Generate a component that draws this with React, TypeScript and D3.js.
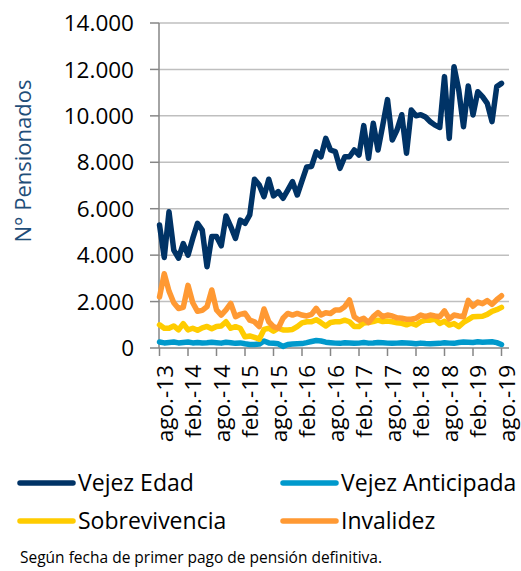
import React from "react";
import * as d3 from "d3";

// ago-13 .. ago-19, mensual (73 meses)
const tickLabels = [
  "ago.-13", "feb.-14", "ago.-14", "feb.-15", "ago.-15", "feb.-16", "ago.-16",
  "feb.-17", "ago.-17", "feb.-18", "ago.-18", "feb.-19", "ago.-19",
];

const vejezEdad = [
  5300, 3900, 5870, 4220, 3870, 4500, 4000, 4720, 5370, 5080, 3500, 4800, 4800,
  4400, 5690, 5230, 4720, 5510, 5370, 5730, 7270, 7020, 6520, 7270, 6550, 6735,
  6450, 6800, 7165, 6590, 7200, 7800, 7820, 8450, 8240, 9030, 8530, 8460, 7740,
  8240, 8240, 8530, 8310, 9580, 8170, 9680, 8530, 9600, 10700, 8960, 9390, 10050,
  8390, 10250, 10000, 10050, 9950, 9750, 9600, 9500, 11690, 9030, 12120, 11110,
  9530, 11290, 10040, 11040, 10830, 10540, 9750, 11260, 11400,
];

const vejezAnticipada = [
  260, 220, 240, 260, 220, 240, 260, 220, 240, 220, 230, 250, 230, 210, 250, 230,
  200, 220, 180, 150, 150, 170, 300, 220, 200, 180, 70, 150, 170, 180, 190, 230,
  280, 320, 300, 250, 230, 210, 200, 230, 220, 200, 210, 240, 210, 220, 240, 230,
  210, 200, 210, 230, 220, 200, 180, 210, 190, 180, 190, 200, 230, 210, 200, 240,
  260, 250, 240, 270, 250, 260, 270, 230, 150,
];

const sobrevivencia = [
  1000, 850, 850, 950, 780, 1050, 780, 850, 760, 870, 930, 830, 930, 950, 1130,
  850, 920, 850, 480, 520, 460, 380, 800, 850, 720, 850, 780, 780, 800, 920, 1080,
  1130, 1130, 1220, 1090, 950, 1100, 1130, 1130, 1200, 1130, 930, 930, 1080, 1100,
  1140, 1200, 1140, 1160, 1130, 1090, 1060, 1000, 1070, 990, 1130, 1200, 1200,
  1250, 1060, 1150, 990, 1050, 920, 1100, 1220, 1350, 1360, 1370, 1450, 1580,
  1650, 1750,
];

const invalidez = [
  2200, 3200, 2450, 1950, 1700, 1750, 2700, 1950, 1580, 1620, 1780, 2500, 1640,
  1420, 1640, 1920, 1350, 1450, 1500, 1200, 1130, 920, 1680, 1130, 920, 850, 1280,
  1490, 1420, 1490, 1420, 1380, 1450, 1710, 1420, 1520, 1490, 1640, 1640, 1780,
  2070, 1350, 1200, 1280, 1100, 1350, 1520, 1350, 1420, 1380, 1300, 1280, 1240,
  1240, 1280, 1420, 1350, 1420, 1380, 1350, 1600, 1250, 1420, 1380, 1350, 2050,
  1800, 1980, 1910, 2040, 1880, 2080, 2250,
];

const yTicks = [0, 2000, 4000, 6000, 8000, 10000, 12000, 14000];

const series = [
  { name: "Vejez Edad", values: vejezEdad, color: "#003366" },
  { name: "Vejez Anticipada", values: vejezAnticipada, color: "#0099CC" },
  { name: "Sobrevivencia", values: sobrevivencia, color: "#FFCC00" },
  { name: "Invalidez", values: invalidez, color: "#FF9933" },
];

const FONT = "'Open Sans', sans-serif";

export default function App() {
  const width = 521;
  const height = 571;
  const left = 159;
  const right = 509;

  const x = d3.scaleLinear().domain([0, vejezEdad.length - 1]).range([159.5, 501.5]);
  const y = d3.scaleLinear().domain([0, 14000]).range([348, 23]);

  const line = d3
    .line<number>()
    .x((_, i) => x(i))
    .y((d) => y(d));

  const fmt = (v: number) => d3.format(",")(v).replace(/,/g, ".");

  return (
    <svg
      width={width}
      height={height}
      style={{ position: "absolute", left: 0, top: 0, background: "#fff" }}
      fontFamily={FONT}
    >
      {/* gridlines + y axis labels */}
      {yTicks.map((t) => (
        <g key={t}>
          {t > 0 && (
            <line x1={left} x2={right} y1={y(t)} y2={y(t)} stroke="#BFBFBF" strokeWidth={1.5} />
          )}
          <line x1={left - 9} x2={left} y1={y(t)} y2={y(t)} stroke="#868686" strokeWidth={1.5} />
          <text x={134} y={y(t)} dy="0.36em" textAnchor="end" fontSize={22.5} fill="#000">
            {fmt(t)}
          </text>
        </g>
      ))}
      <line x1={left} x2={left} y1={y(14000)} y2={y(0)} stroke="#868686" strokeWidth={1.5} />
      <line x1={left} x2={right} y1={y(0)} y2={y(0)} stroke="#868686" strokeWidth={1.5} />

      {/* x ticks */}
      {tickLabels.map((lab, k) => {
        const xi = x(k * 6);
        return (
          <g key={lab}>
            <line x1={xi} x2={xi} y1={y(0)} y2={y(0) + 8} stroke="#868686" strokeWidth={1.5} />
            <text
              transform={`translate(${xi + 5},${365}) rotate(-90)`}
              textAnchor="end"
              dy="0.36em"
              fontSize={22.5}
              fill="#000"
            >
              {lab}
            </text>
          </g>
        );
      })}

      <text
        transform={`translate(23,161) rotate(-90)`}
        textAnchor="middle"
        dy="0.36em"
        fontSize={22}
        fill="#1F4E79"
      >
        N° Pensionados
      </text>

      {/* series */}
      {series.map((s) => (
        <path
          key={s.name}
          d={line(s.values) || ""}
          fill="none"
          stroke={s.color}
          strokeWidth={5.5}
          strokeLinejoin="round"
          strokeLinecap="round"
        />
      ))}

      {/* legend */}
      {series.map((s, i) => {
        const lx = i % 2 === 0 ? 20 : 283;
        const ly = i < 2 ? 483 : 521;
        return (
          <g key={s.name}>
            <line x1={lx} x2={lx + 53} y1={ly} y2={ly} stroke={s.color} strokeWidth={5.5} strokeLinecap="round" />
            <text x={lx + 58} y={ly} dy="0.36em" fontSize={23} fill="#000">
              {s.name}
            </text>
          </g>
        );
      })}

      <text x={20} y={563} fontSize={15.5} fill="#000">
        Según fecha de primer pago de pensión definitiva.
      </text>
    </svg>
  );
}
